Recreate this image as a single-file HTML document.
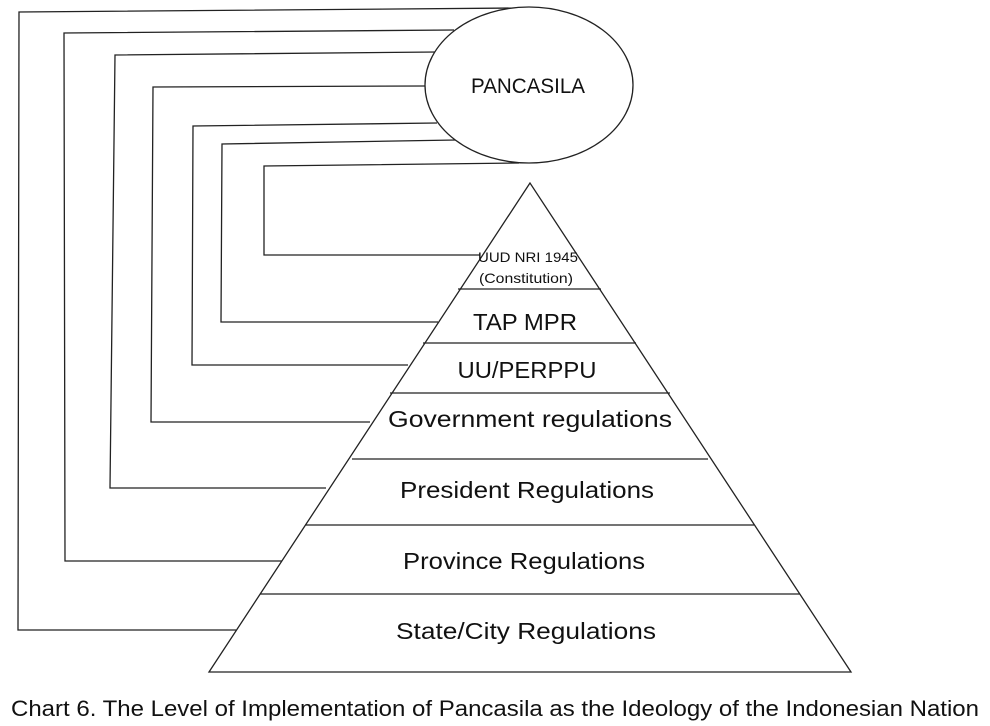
<!DOCTYPE html>
<html><head><meta charset="utf-8"><style>
html,body{margin:0;padding:0;background:#fff;}
svg{display:block;}
text{font-family:"Liberation Sans",sans-serif;fill:#111;}
</style></head><body>
<svg width="990" height="726" viewBox="0 0 990 726" xmlns="http://www.w3.org/2000/svg">
<g stroke="#222" stroke-width="1.3" fill="none">
<polyline points="519,8 19,12 18,630 236,630"/>
<polyline points="454,30 64,33 65,561 282,561"/>
<polyline points="437,52 115,55 110,488 326,488"/>
<polyline points="425,86 153,87 151,422 370,422"/>
<polyline points="437,123 193,126 192,365 408,365"/>
<polyline points="456,140 222,144 221,322 438,322"/>
<polyline points="519,163 264,166 264,255 480,255"/>
<ellipse cx="529" cy="85" rx="104" ry="78" fill="#fff"/>
<polygon points="530,183 209,672 851,672"/>
<line x1="458" y1="289" x2="601" y2="289"/>
<line x1="423" y1="343" x2="636" y2="343"/>
<line x1="390" y1="393" x2="670" y2="393"/>
<line x1="352" y1="459" x2="708" y2="459"/>
<line x1="305" y1="525" x2="754" y2="525"/>
<line x1="260" y1="594" x2="800" y2="594"/>
</g>
<text x="528" y="93" font-size="21" text-anchor="middle" textLength="114" lengthAdjust="spacingAndGlyphs">PANCASILA</text>
<text x="528" y="262" font-size="14" text-anchor="middle" textLength="100" lengthAdjust="spacingAndGlyphs">UUD NRI 1945</text>
<text x="526" y="283" font-size="14" text-anchor="middle" textLength="94" lengthAdjust="spacingAndGlyphs">(Constitution)</text>
<text x="525" y="330" font-size="23" text-anchor="middle" textLength="104" lengthAdjust="spacingAndGlyphs">TAP MPR</text>
<text x="527" y="378" font-size="23" text-anchor="middle" textLength="139" lengthAdjust="spacingAndGlyphs">UU/PERPPU</text>
<text x="530" y="427" font-size="23" text-anchor="middle" textLength="284" lengthAdjust="spacingAndGlyphs">Government regulations</text>
<text x="527" y="498" font-size="23" text-anchor="middle" textLength="254" lengthAdjust="spacingAndGlyphs">President Regulations</text>
<text x="524" y="569" font-size="23" text-anchor="middle" textLength="242" lengthAdjust="spacingAndGlyphs">Province Regulations</text>
<text x="526" y="639" font-size="23" text-anchor="middle" textLength="260" lengthAdjust="spacingAndGlyphs">State/City Regulations</text>
<text x="495" y="716" font-size="22" text-anchor="middle" textLength="968" lengthAdjust="spacingAndGlyphs">Chart 6. The Level of Implementation of Pancasila as the Ideology of the Indonesian Nation</text>
</svg>
</body></html>
